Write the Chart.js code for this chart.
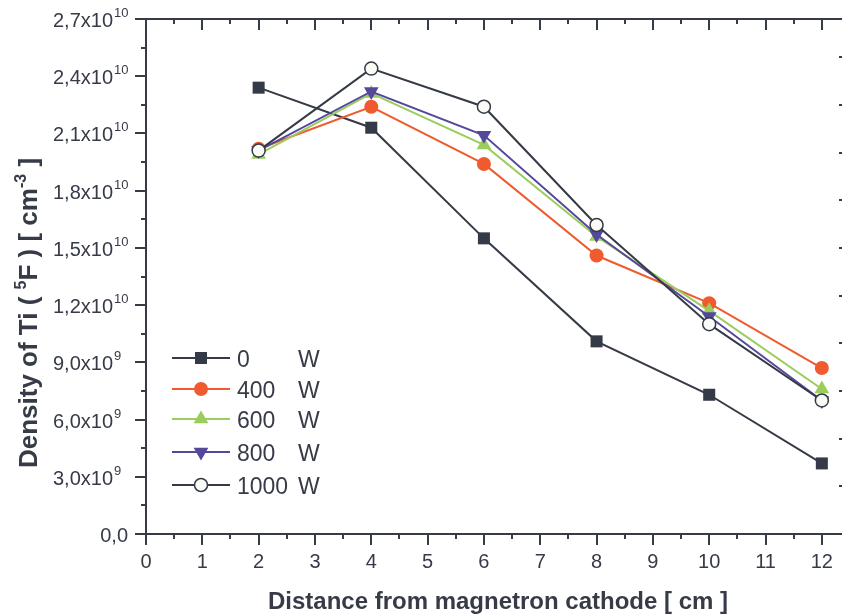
<!DOCTYPE html>
<html>
<head>
<meta charset="utf-8">
<script src="https://cdn.jsdelivr.net/npm/chart.js@4/dist/chart.umd.min.js"></script>
<style>
  html, body { margin: 0; padding: 0; background: #fff; overflow: hidden; }
  #wrap { width: 860px; height: 616px; }
</style>
</head>
<body>
<div id="wrap"><canvas id="grafico" width="860" height="616"></canvas></div>
<script>
// ---- datos ----
const distancias = [2, 4, 6, 8, 10, 12];          // cm
const potencias = ['0', '400', '600', '800', '1000'];   // W
const dens0W    = [2.34e10, 2.13e10, 1.55e10, 1.01e10, 7.3e9, 3.7e9];
const dens400W  = [2.02e10, 2.24e10, 1.94e10, 1.46e10, 1.21e10, 8.7e9];
const dens600W  = [1.99e10, 2.31e10, 2.04e10, 1.56e10, 1.17e10, 7.6e9];
const dens800W  = [2.01e10, 2.32e10, 2.09e10, 1.57e10, 1.14e10, 7.0e9];
const dens1000W = [2.01e10, 2.44e10, 2.24e10, 1.62e10, 1.10e10, 7.0e9];
const ticksX = [0, 1, 2, 3, 4, 5, 6, 7, 8, 9, 10, 11, 12];
const ticksY = [0, 3e9, 6e9, 9e9, 1.2e10, 1.5e10, 1.8e10, 2.1e10, 2.4e10, 2.7e10];

const colorEje = '#363b47';
const estilos = [
  { color: '#343a46', relleno: '#343a46', punto: 'rect', radio: 8.5, rot: 0 },
  { color: '#ef5b2e', relleno: '#ef5b2e', punto: 'circle', radio: 7, rot: 0 },
  { color: '#9bcd5d', relleno: '#9bcd5d', punto: 'triangle', radio: 8.5, rot: 0 },
  { color: '#54489c', relleno: '#54489c', punto: 'triangle', radio: 8.5, rot: 180 },
  { color: '#343a46', relleno: '#fafaf6', punto: 'circle', radio: 6.5, rot: 0 }
];
const series = [dens0W, dens400W, dens600W, dens800W, dens1000W];

const datasets = series.map((s, i) => ({
  label: potencias[i] + ' W',
  data: s.map((v, j) => ({ x: distancias[j], y: v })),
  borderColor: estilos[i].color,
  backgroundColor: estilos[i].relleno,
  pointBackgroundColor: estilos[i].relleno,
  pointBorderColor: estilos[i].color,
  pointBorderWidth: i === 4 ? 1.5 : 0,
  pointStyle: estilos[i].punto,
  pointRotation: estilos[i].rot,
  pointRadius: estilos[i].radio,
  pointHoverRadius: estilos[i].radio,
  borderWidth: 2,
  tension: 0,
  order: 4 - i          // 1000 W queda encima
}));

// texto tipo "2,7x10^10"
function etiquetaY(v) {
  if (v === 0) return { base: '0,0', exp: '' };
  const e = Math.floor(Math.log10(v) + 1e-9);
  const m = (v / Math.pow(10, e)).toFixed(1).replace('.', ',');
  return { base: m + 'x10', exp: String(e) };
}

// ---- ejes, marcas, textos y leyenda ----
const ejesPlugin = {
  id: 'ejes',
  beforeDatasetsDraw(chart) {
    const { ctx, chartArea: a, scales: { x, y } } = chart;
    ctx.save();
    ctx.strokeStyle = colorEje;
    ctx.lineWidth = 2;
    ctx.beginPath();
    ctx.moveTo(a.left, a.top); ctx.lineTo(a.left, a.bottom);
    ctx.moveTo(a.left - 1, a.bottom); ctx.lineTo(a.right, a.bottom);
    ctx.moveTo(a.left - 1, a.top); ctx.lineTo(a.right, a.top);
    ctx.moveTo(a.right, a.top); ctx.lineTo(a.right, a.bottom);
    // marcas eje x (abajo hacia fuera, arriba hacia dentro)
    for (let v = 0; v <= 12.5; v += 0.5) {
      const px = Math.round(x.getPixelForValue(v));
      const largo = Number.isInteger(v) ? 11 : 5;
      ctx.moveTo(px, a.bottom); ctx.lineTo(px, a.bottom + largo);
      ctx.moveTo(px, a.top); ctx.lineTo(px, a.top + largo);
    }
    // marcas eje y izquierdo
    for (let v = 0; v <= 2.7e10 + 1; v += 1.5e9) {
      const py = Math.round(y.getPixelForValue(v));
      const largo = Math.round(v / 1.5e9) % 2 === 0 ? 11 : 5;
      ctx.moveTo(a.left, py); ctx.lineTo(a.left - largo, py);
    }
    // marcas eje y derecho
    for (let v = 0; v <= 2.7e10; v += 2.5e9) {
      const py = Math.round(y.getPixelForValue(v));
      ctx.moveTo(a.right, py); ctx.lineTo(a.right - 11, py);
    }
    ctx.stroke();
    ctx.restore();
  },
  afterDraw(chart) {
    const { ctx, chartArea: a, scales: { x, y } } = chart;
    ctx.save();
    ctx.fillStyle = colorEje;
    // etiquetas eje x
    ctx.font = '20px "Liberation Sans", Arial, sans-serif';
    ctx.textAlign = 'center';
    ctx.textBaseline = 'alphabetic';
    ticksX.forEach(v => ctx.fillText(String(v), x.getPixelForValue(v), 568));
    // etiquetas eje y
    ticksY.forEach(v => {
      const py = y.getPixelForValue(v);
      const t = etiquetaY(v);
      ctx.textAlign = 'right';
      ctx.font = '20px "Liberation Sans", Arial, sans-serif';
      if (!t.exp) { ctx.fillText(t.base, 128, py + 8); return; }
      ctx.fillText(t.base, 113, py + 8);
      ctx.textAlign = 'left';
      ctx.font = '13px "Liberation Sans", Arial, sans-serif';
      ctx.fillText(t.exp, 114, py - 2);
    });
    // título eje x
    ctx.textAlign = 'center';
    ctx.font = 'bold 24px "Liberation Sans", Arial, sans-serif';
    ctx.fillText('Distance from magnetron cathode [ cm ]', 498, 609);
    // título eje y, con superíndices
    const partes = [
      ['Density of Ti ( ', 0], ['5', 1], ['F ) [ cm', 0], ['-3', 1], [' ]', 0]
    ];
    const fNormal = 'bold 26px "Liberation Sans", Arial, sans-serif';
    const fSup = 'bold 16px "Liberation Sans", Arial, sans-serif';
    let total = 0;
    partes.forEach(p => { ctx.font = p[1] ? fSup : fNormal; total += ctx.measureText(p[0]).width; });
    ctx.translate(37, 313);
    ctx.rotate(-Math.PI / 2);
    ctx.textAlign = 'left';
    let cx = -total / 2;
    partes.forEach(p => {
      ctx.font = p[1] ? fSup : fNormal;
      ctx.fillText(p[0], cx, p[1] ? -11 : 0);
      cx += ctx.measureText(p[0]).width;
    });
    ctx.setTransform(1, 0, 0, 1, 0, 0);
    // leyenda
    const filas = [358, 389, 419, 452, 485];
    datasets.forEach((d, i) => {
      const fy = filas[i];
      ctx.strokeStyle = d.borderColor;
      ctx.lineWidth = 2;
      ctx.beginPath();
      ctx.moveTo(172, fy); ctx.lineTo(230, fy);
      ctx.stroke();
      ctx.fillStyle = d.pointBackgroundColor;
      ctx.strokeStyle = d.pointBorderColor;
      ctx.lineWidth = d.pointBorderWidth || 0.001;
      Chart.helpers.drawPoint(ctx, {
        pointStyle: d.pointStyle, rotation: d.pointRotation,
        radius: d.pointRadius, borderWidth: d.pointBorderWidth
      }, 201, fy);
      ctx.fillStyle = colorEje;
      ctx.font = '23px "Liberation Sans", Arial, sans-serif';
      ctx.textAlign = 'left';
      ctx.fillText(potencias[i], 237, fy + 8.5);
      ctx.fillText('W', 298, fy + 8.5);
    });
    ctx.restore();
  }
};

new Chart(document.getElementById('grafico'), {
  type: 'line',
  data: { datasets },
  options: {
    responsive: false,
    animation: false,
    layout: { padding: { left: 146, top: 19, right: 10, bottom: 82 } },
    plugins: { legend: { display: false }, tooltip: { enabled: false } },
    scales: {
      x: { type: 'linear', min: 0, max: 12.5, display: false },
      y: { type: 'linear', min: 0, max: 2.7e10, display: false }
    }
  },
  plugins: [ejesPlugin]
});
</script>
</body>
</html>
